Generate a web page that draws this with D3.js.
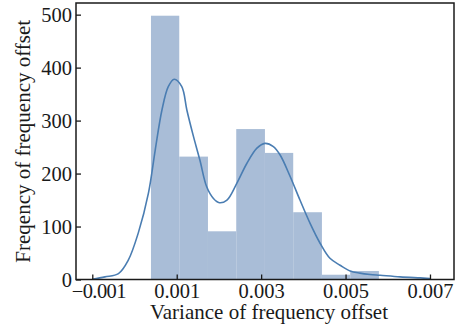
<!DOCTYPE html>
<html>
<head>
<meta charset="utf-8">
<script src="https://cdn.jsdelivr.net/npm/d3@7"></script>
<style>
  html, body { margin: 0; padding: 0; background: #fff; }
  svg { display: block; }
  text { font-family: "Liberation Serif", "Times New Roman", serif; fill: #1a1a1a; }
</style>
</head>
<body>
<svg id="chart" width="460" height="334"></svg>
<script>
// Histogram of the variance of frequency offset
const binEdges = [0.00039, 0.00106, 0.00174, 0.00241, 0.00309, 0.00376, 0.00444, 0.00511, 0.00579];
const binCounts = [498, 232, 91, 284, 239, 127, 9, 16];

// Kernel density estimate, scaled to counts
const kdeX = [-0.00100, -0.00070, -0.00038, -0.00015, 0.00009, 0.00033, 0.00049, 0.00065, 0.00080,
              0.00094, 0.00112, 0.00124, 0.00139, 0.00155, 0.00171, 0.00187, 0.00201, 0.00219,
              0.00242, 0.00266, 0.00290, 0.00309, 0.00329, 0.00345, 0.00369, 0.00392, 0.00416,
              0.00440, 0.00463, 0.00487, 0.00511, 0.00534, 0.00558, 0.00582, 0.00629, 0.00677, 0.00700];
const kdeY = [0.5, 5, 11, 36, 88, 163, 244, 320, 364,
              378, 364, 320, 272, 225, 175, 153, 145, 150,
              181, 219, 248, 257, 251, 235, 194, 150, 106,
              68, 40, 27, 16, 12, 9.5, 8, 5, 3, 2];

const xTicks = [-0.001, 0.001, 0.003, 0.005, 0.007];
const yTicks = [0, 100, 200, 300, 400, 500];

const xLabel = "Variance of frequency offset";
const yLabel = "Freqency of frequency offset";

const svg = d3.select("#chart");
const m = { left: 76, right: 6, top: 3, bottom: 54.5 };
const W = 460, H = 334;
const pw = W - m.left - m.right, ph = H - m.top - m.bottom;

const x = d3.scaleLinear().domain([-0.001386, 0.007569]).range([0, pw]);
const y = d3.scaleLinear().domain([0, 522]).range([ph, 0]);

const g = svg.append("g").attr("transform", `translate(${m.left},${m.top})`);

// bars
const bins = binCounts.map((c, i) => ({ x0: binEdges[i], x1: binEdges[i + 1], c }));
g.append("g").selectAll("rect").data(bins).join("rect")
  .attr("x", d => x(d.x0))
  .attr("width", d => x(d.x1) - x(d.x0))
  .attr("y", d => y(d.c))
  .attr("height", d => y(0) - y(d.c))
  .attr("fill", "#a9bdd7");

// density curve
const line = d3.line()
  .x((d, i) => x(kdeX[i]))
  .y(d => y(d))
  .curve(d3.curveCatmullRom.alpha(0.5));
g.append("path").datum(kdeY)
  .attr("d", line)
  .attr("fill", "none")
  .attr("stroke", "#4a7db2")
  .attr("stroke-width", 1.6);

// axes with inward ticks
const xAxis = d3.axisBottom(x).tickValues(xTicks).tickSize(-5).tickPadding(4)
  .tickFormat(d => d3.format(".3f")(d).replace("-", "\u2212"));
const yAxis = d3.axisLeft(y).tickValues(yTicks).tickSize(-5).tickPadding(4);

const gx = g.append("g").attr("transform", `translate(0,${ph})`).call(xAxis);
const gy = g.append("g").call(yAxis);
[gx, gy].forEach(a => {
  a.select(".domain").remove();
  a.selectAll(".tick line").attr("stroke", "#1a1a1a").attr("stroke-width", 1.3);
  a.selectAll(".tick text").attr("font-size", 20.5).attr("fill", "#1a1a1a")
    .style("font-family", '"Liberation Serif", serif');
});
// keep the negative label clear of the y-axis "0"
gx.selectAll(".tick text").filter(d => d < 0)
  .attr("dx", 6).attr("letter-spacing", -0.6);

// frame
g.append("rect").attr("x", 0).attr("y", 0).attr("width", pw).attr("height", ph)
  .attr("fill", "none").attr("stroke", "#1a1a1a").attr("stroke-width", 1.5);

// axis titles
svg.append("text")
  .attr("x", m.left + pw / 2 + 4).attr("y", 319)
  .attr("text-anchor", "middle").attr("font-size", 21)
  .text(xLabel);
svg.append("text")
  .attr("transform", `translate(30,${m.top + ph / 2}) rotate(-90)`)
  .attr("text-anchor", "middle").attr("font-size", 21)
  .text(yLabel);
</script>
</body>
</html>
